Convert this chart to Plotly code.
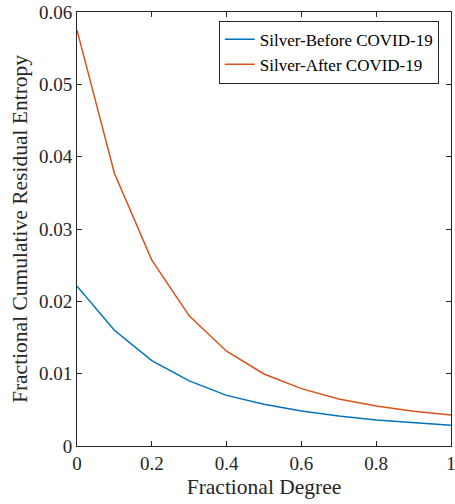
import plotly.graph_objects as go

degree = [0, 0.1, 0.2, 0.3, 0.4, 0.5, 0.6, 0.7, 0.8, 0.9, 1.0]
before_covid = [0.0221, 0.0160, 0.0118, 0.0090, 0.0070, 0.00577, 0.00484, 0.00415, 0.0036, 0.0032, 0.00286]
after_covid = [0.0575, 0.0377, 0.0257, 0.0180, 0.0131, 0.00996, 0.00793, 0.0065, 0.00553, 0.0048, 0.00429]
series_names = ["Silver-Before COVID-19", "Silver-After COVID-19"]
x_ticks = [0, 0.2, 0.4, 0.6, 0.8, 1]
x_tick_text = ["0", "0.2", "0.4", "0.6", "0.8", "1"]
y_ticks = [0, 0.01, 0.02, 0.03, 0.04, 0.05, 0.06]
y_tick_text = ["0", "0.01", "0.02", "0.03", "0.04", "0.05", "0.06"]

font_family = "Liberation Serif, Times New Roman, serif"
axis_color = "#262626"

fig = go.Figure()
fig.add_trace(go.Scatter(x=degree, y=before_covid, mode="lines", name=series_names[0],
                         line=dict(color="#0072BD", width=1.5)))
fig.add_trace(go.Scatter(x=degree, y=after_covid, mode="lines", name=series_names[1],
                         line=dict(color="#D95319", width=1.5)))

axis_common = dict(showgrid=False, zeroline=False, showline=True, linecolor=axis_color,
                   linewidth=1, mirror="ticks", ticks="inside", ticklen=5, automargin=False,
                   tickcolor=axis_color, ticklabeloverflow="allow",
                   tickfont=dict(family=font_family, size=19, color=axis_color))

fig.update_xaxes(range=[0, 1], tickvals=x_ticks, ticktext=x_tick_text,
                 title=dict(text="Fractional Degree", font=dict(family=font_family, size=21.5, color=axis_color), standoff=6),
                 **axis_common)
fig.update_yaxes(range=[0, 0.06], tickvals=y_ticks, ticktext=y_tick_text,
                 title=dict(text="Fractional Cumulative Residual Entropy", font=dict(family=font_family, size=21.5, color=axis_color), standoff=5),
                 **axis_common)

fig.update_layout(
    width=455, height=504,
    margin=dict(l=77, r=4, t=12, b=58),
    paper_bgcolor="white", plot_bgcolor="white",
    font=dict(family=font_family, color=axis_color),
    legend=dict(x=0.379, y=0.98, xanchor="left", yanchor="top",
                bgcolor="white", bordercolor=axis_color, borderwidth=1,
                font=dict(family=font_family, size=17, color="black"),
                tracegroupgap=0, itemwidth=30),
    showlegend=True,
)

fig.write_html("out.html", config={"displayModeBar": False},
               post_script="document.body.style.margin='0';")
